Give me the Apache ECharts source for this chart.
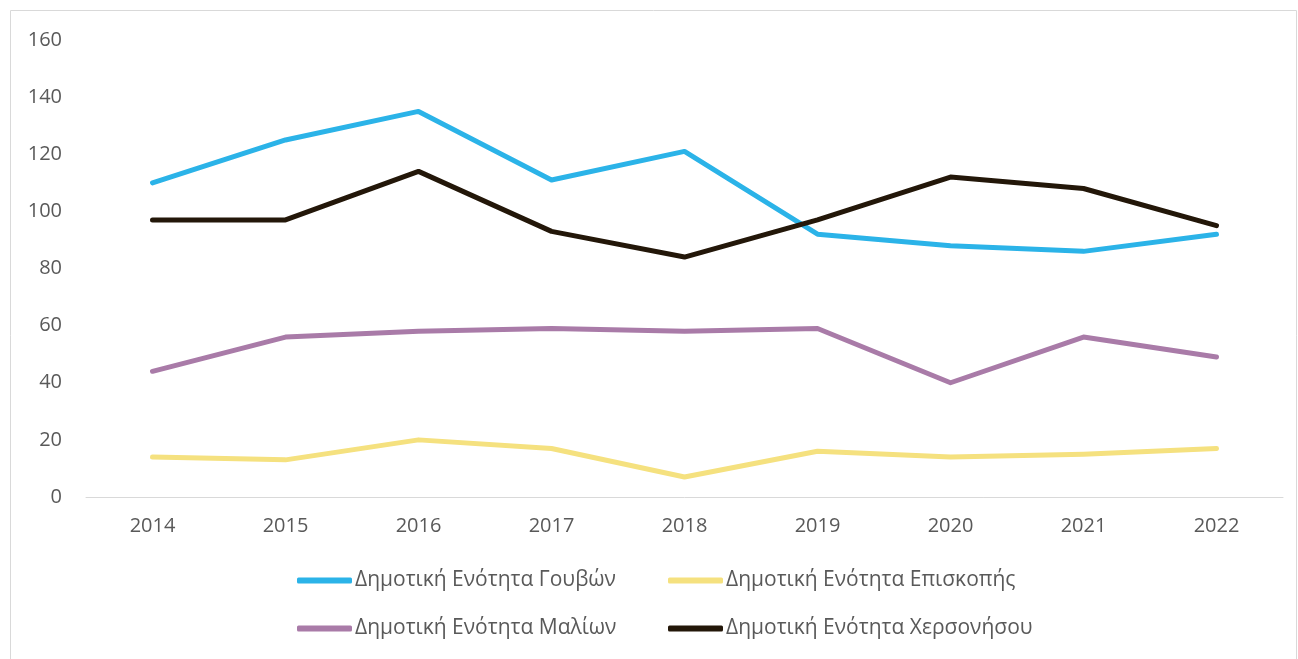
<!DOCTYPE html>
<html>
<head>
<meta charset="utf-8">
<script src="https://cdn.jsdelivr.net/npm/echarts@6/dist/echarts.min.js"></script>
<style>
	html,body{margin:0;padding:0;background:#fff}
	#chart{width:1298px;height:659px}
</style>
</head>
<body>
<div id="chart"></div>
<script>
	// έτη
	var years = ["2014","2015","2016","2017","2018","2019","2020","2021","2022"];
	var yTicks = [0,20,40,60,80,100,120,140,160];

	var names = [
		"Δημοτική Ενότητα Γουβών",
		"Δημοτική Ενότητα Επισκοπής",
		"Δημοτική Ενότητα Μαλίων",
		"Δημοτική Ενότητα Χερσονήσου"
	];
	var gouvon = [110,125,135,111,121,92,88,86,92];
	var episkopis = [14,13,20,17,7,16,14,15,17];
	var malion = [44,56,58,59,58,59,40,56,49];
	var chersonisou = [97,97,114,93,84,97,112,108,95];

	var colors = ["#2BB3E8","#F5E17F","#A97BA8","#231709"];
	var font = "'Open Sans', 'Noto Sans', sans-serif";

	var chart = echarts.init(document.getElementById("chart"));

	// ένα legend για κάθε σειρά, για να μπουν σε στήλες
	var legendPos = [
		{left:292, top:565},
		{left:663, top:565},
		{left:292, top:613},
		{left:663, top:613}
	];
	var legends = names.map(function(n,i){
		return {
			data:[n],
			left:legendPos[i].left,
			top:legendPos[i].top,
			itemWidth:55,
			itemHeight:6,
			itemGap:0,
			icon:"roundRect",
			textStyle:{color:"#595959",fontSize:21,fontFamily:font,padding:[0,0,0,-2]}
		};
	});

	var seriesData = [gouvon,episkopis,malion,chersonisou];
	// σειρά σχεδίασης όπως στο πρωτότυπο
	var drawOrder = [1,2,0,3];

	chart.setOption({
		animation:false,
		color:colors,
		graphic:[{
			type:"rect",
			shape:{x:10.5,y:10.5,width:1286,height:660},
			style:{fill:"none",stroke:"#d9d9d9",lineWidth:1},
			silent:true
		}],
		legend:legends,
		grid:{left:86,right:15,top:40,bottom:162},
		xAxis:{
			type:"category",
			data:years,
			boundaryGap:true,
			axisTick:{show:false},
			axisLine:{lineStyle:{color:"#d9d9d9",width:1}},
			axisLabel:{color:"#595959",fontSize:20,fontFamily:font,margin:19}
		},
		yAxis:{
			type:"value",
			min:yTicks[0],
			max:yTicks[yTicks.length-1],
			interval:20,
			axisLine:{show:false},
			axisTick:{show:false},
			splitLine:{show:false},
			axisLabel:{color:"#595959",fontSize:20,fontFamily:font,margin:24}
		},
		series:drawOrder.map(function(i){
			return {
				name:names[i],
				type:"line",
				data:seriesData[i],
				symbol:"none",
				color:colors[i],
				lineStyle:{width:5,color:colors[i],cap:"round",join:"round"}
			};
		})
	});
</script>
</body>
</html>
